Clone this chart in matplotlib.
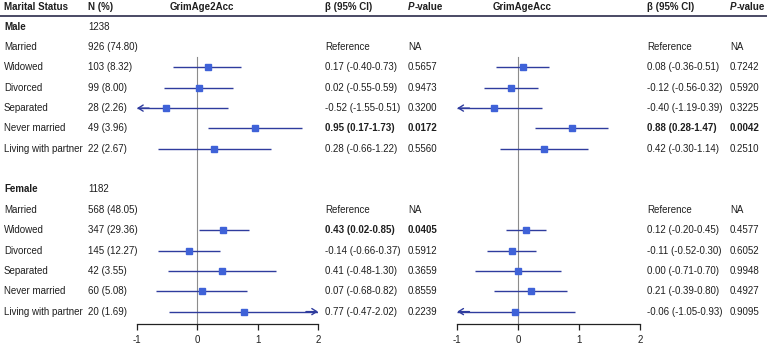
import numpy as np
import matplotlib
matplotlib.use("Agg")
import matplotlib.pyplot as plt

plt.rcParams["font.family"] = ["Liberation Sans", "DejaVu Sans"]
plt.rcParams["font.size"] = 7

# ─── Data ────────────────────────────────────────────────────────────────────
statuses = ["Married", "Widowed", "Divorced", "Separated", "Never married",
            "Living with partner"]
groups = ["Male", "Female"]
group_totals = ["1238", "1182"]

male_n = ["926 (74.80)", "103 (8.32)", "99 (8.00)", "28 (2.26)", "49 (3.96)", "22 (2.67)"]
female_n = ["568 (48.05)", "347 (29.36)", "145 (12.27)", "42 (3.55)", "60 (5.08)", "20 (1.69)"]

nan = np.nan
# GrimAge2Acc
male_g2_est = [nan, 0.17, 0.02, -0.52, 0.95, 0.28]
male_g2_lo = [nan, -0.40, -0.55, -1.55, 0.17, -0.66]
male_g2_hi = [nan, 0.73, 0.59, 0.51, 1.73, 1.22]
male_g2_p = [nan, 0.5657, 0.9473, 0.3200, 0.0172, 0.5560]
female_g2_est = [nan, 0.43, -0.14, 0.41, 0.07, 0.77]
female_g2_lo = [nan, 0.02, -0.66, -0.48, -0.68, -0.47]
female_g2_hi = [nan, 0.85, 0.37, 1.30, 0.82, 2.02]
female_g2_p = [nan, 0.0405, 0.5912, 0.3659, 0.8559, 0.2239]
# GrimAgeAcc
male_g_est = [nan, 0.08, -0.12, -0.40, 0.88, 0.42]
male_g_lo = [nan, -0.36, -0.56, -1.19, 0.28, -0.30]
male_g_hi = [nan, 0.51, 0.32, 0.39, 1.47, 1.14]
male_g_p = [nan, 0.7242, 0.5920, 0.3225, 0.0042, 0.2510]
female_g_est = [nan, 0.12, -0.11, 0.00, 0.21, -0.06]
female_g_lo = [nan, -0.20, -0.52, -0.71, -0.39, -1.05]
female_g_hi = [nan, 0.45, 0.30, 0.70, 0.80, 0.93]
female_g_p = [nan, 0.4577, 0.6052, 0.9948, 0.4927, 0.9095]

x_ticks = [-1, 0, 1, 2]

# ─── Layout (pixels) ─────────────────────────────────────────────────────────
W, H = 767, 347
ROW0, ROWH = 26.7, 20.35
LINE_C = "#2f3c9e"
BOX_C = "#3f62d8"
TXT_C = "#1f1f1f"


def px2row(py):
    return (py - ROW0) / ROWH


fig = plt.figure(figsize=(W / 100, H / 100), dpi=100)
fig.patch.set_facecolor("white")

ylim = (px2row(H), px2row(0))

tab = fig.add_axes([0, 0, 1, 1])
tab.set_xlim(0, W)
tab.set_ylim(*ylim)
tab.axis("off")

# Columns
X_STATUS, X_N = 4, 88
X_B1, X_P1 = 325, 408
X_B2, X_P2 = 647, 730


def header_p(x, y):
    t = tab.text(x, y, "P", fontweight="bold", fontstyle="italic",
                 ha="left", va="center", color=TXT_C)
    tab.annotate("-value", xy=(1, 0), xycoords=t, ha="left", va="bottom",
                 fontweight="bold", color=TXT_C)


yh = px2row(7)
tab.text(X_STATUS, yh, "Marital Status", fontweight="bold", va="center", color=TXT_C)
tab.text(X_N, yh, "N (%)", fontweight="bold", va="center", color=TXT_C)
tab.text(202, yh, "GrimAge2Acc", fontweight="bold", va="center", ha="center", color=TXT_C)
tab.text(X_B1, yh, "β (95% CI)", fontweight="bold", va="center", color=TXT_C)
header_p(X_P1, yh)
tab.text(522, yh, "GrimAgeAcc", fontweight="bold", va="center", ha="center", color=TXT_C)
tab.text(X_B2, yh, "β (95% CI)", fontweight="bold", va="center", color=TXT_C)
header_p(X_P2, yh)
tab.plot([0, W], [px2row(16), px2row(16)], color="#2b2b4a", lw=1.2)

n_lists = [male_n, female_n]
models = [
    [(male_g2_est, male_g2_lo, male_g2_hi, male_g2_p),
     (female_g2_est, female_g2_lo, female_g2_hi, female_g2_p)],
    [(male_g_est, male_g_lo, male_g_hi, male_g_p),
     (female_g_est, female_g_lo, female_g_hi, female_g_p)],
]
text_cols = [(X_B1, X_P1), (X_B2, X_P2)]

for g, grp in enumerate(groups):
    base = g * 8
    tab.text(X_STATUS, base, grp, fontweight="bold", va="center", color=TXT_C)
    tab.text(X_N, base, group_totals[g], va="center", color=TXT_C)
    for i, st in enumerate(statuses):
        r = base + 1 + i
        tab.text(X_STATUS, r, st, va="center", color=TXT_C)
        tab.text(X_N, r, n_lists[g][i], va="center", color=TXT_C)
        for m in range(2):
            est, lo, hi, p = models[m][g]
            xb, xp = text_cols[m]
            if np.isnan(est[i]):
                tab.text(xb, r, "Reference", va="center", color=TXT_C)
                tab.text(xp, r, "NA", va="center", color=TXT_C)
            else:
                w = "bold" if p[i] < 0.05 else "normal"
                tab.text(xb, r, f"{est[i]:.2f} ({lo[i]:.2f}-{hi[i]:.2f})",
                         va="center", fontweight=w, color=TXT_C)
                tab.text(xp, r, f"{p[i]:.4f}", va="center", fontweight=w, color=TXT_C)

# ─── Forest panels ───────────────────────────────────────────────────────────
axis_row = px2row(323.5)
panels = [(137, 318), (457.3, 640)]
arrow_kw = dict(arrowstyle="->,head_length=0.35,head_width=0.22", color=LINE_C,
                lw=1.0, mutation_scale=10, shrinkA=0, shrinkB=0)

for m, (x0, x1) in enumerate(panels):
    ax = fig.add_axes([x0 / W, 0, (x1 - x0) / W, 1])
    ax.set_xlim(-1, 2)
    ax.set_ylim(*ylim)
    ax.patch.set_alpha(0)
    for s in ("top", "left", "right"):
        ax.spines[s].set_visible(False)
    ax.spines["bottom"].set_position(("data", axis_row))
    ax.spines["bottom"].set_bounds(-1, 2)
    ax.spines["bottom"].set_linewidth(0.9)
    ax.spines["bottom"].set_color("#222222")
    ax.set_yticks([])
    ax.set_xticks(x_ticks)
    ax.set_xticklabels([str(t) for t in x_ticks])
    ax.tick_params(axis="x", direction="out", length=4, width=0.9,
                   color="#222222", labelsize=7, labelcolor=TXT_C, pad=4)

    ax.plot([0, 0], [1.5, axis_row], color="#8c8c8c", lw=0.8, zorder=1)

    for g in range(2):
        est, lo, hi, p = models[m][g]
        for i in range(len(statuses)):
            if np.isnan(est[i]):
                continue
            r = g * 8 + 1 + i
            lo_c, hi_c = max(lo[i], -1), min(hi[i], 2)
            ax.plot([lo_c, hi_c], [r, r], color=LINE_C, lw=1.0, zorder=2,
                    solid_capstyle="butt")
            if lo[i] < -1:
                ax.annotate("", xy=(-1, r), xytext=(-0.8, r), arrowprops=arrow_kw)
            if hi[i] > 2:
                ax.annotate("", xy=(2, r), xytext=(1.8, r), arrowprops=arrow_kw)
            ax.plot(est[i], r, marker="s", ms=4.6, color=BOX_C,
                    markeredgecolor=BOX_C, zorder=3, linestyle="none")

fig.savefig("out.png", dpi=100, facecolor="white")
plt.close(fig)
